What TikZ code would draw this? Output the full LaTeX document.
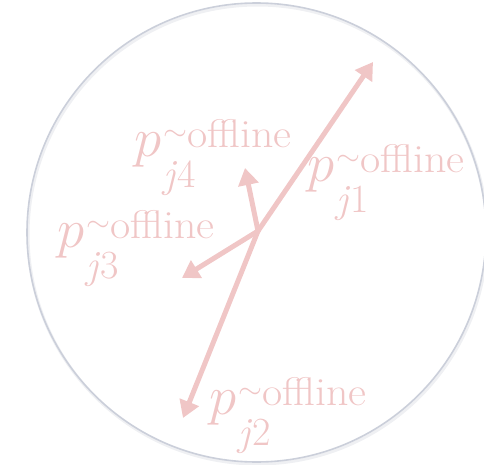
\RequirePackage{fix-cm}
\documentclass[tikz,border=0pt]{standalone}
\usepackage{graphicx}
\usepackage{tikz}
\usetikzlibrary{arrows.meta}
\definecolor{VecPink}{HTML}{F0C6C6}
\definecolor{RimGrey}{HTML}{CBCFDA}
\definecolor{RimShade}{HTML}{EFF0F3}
% p with the index j<n> below and "~offline" above, side by side
\newcommand{\poff}[1]{%
  $p$\kern2pt%
  \rlap{\raisebox{-31pt}{\fontsize{40}{40}\selectfont\textit{j}#1}}%
  \raisebox{9pt}{\scalebox{1.1}[1]{\fontsize{40}{40}\selectfont\raisebox{7pt}{$\scriptstyle\sim$}offline}}}

\begin{document}
\begin{tikzpicture}[x=1pt,y=-1pt,
  vec/.style={-{Triangle[length=17pt,width=20pt]},draw=VecPink,line width=5pt,line cap=round},
  lbl/.style={text=VecPink,font=\fontsize{55}{60}\selectfont,inner sep=0pt,anchor=base west}
]
\useasboundingbox (0,0) rectangle (484,465);
\draw[RimShade,line width=3pt] (257.5,234.5) circle[radius=229.5];
\draw[RimGrey,line width=1.6pt] (256.5,232.5) circle[radius=229.5];
% vectors from the common hub
\coordinate (hub) at (258,231);
\coordinate (t1) at (373,62);
\coordinate (t2) at (183,418);
\coordinate (t3) at (182,278);
\coordinate (t4) at (245,168);
\draw[vec] (hub) -- (t1);
\draw[vec] (hub) -- (t2);
\draw[vec] (hub) -- (t3);
\draw[vec] (hub) -- (t4);
\node[lbl] (l1) at (307,182) {\poff{1}};
\node[lbl] (l2) at (209,414) {\poff{2}};
\node[lbl] (l3) at (57,247) {\poff{3}};
\node[lbl] (l4) at (134,157) {\poff{4}};
\end{tikzpicture}
\end{document}
